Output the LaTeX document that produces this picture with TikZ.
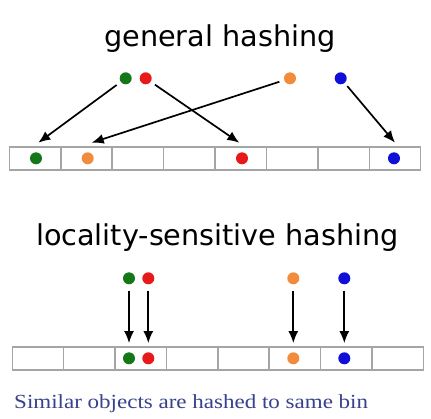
\documentclass[tikz,border=0pt]{standalone}
\usepackage{fontspec}
\setmainfont{Liberation Serif}
\newfontfamily\titlefont{DejaVu Sans}
\usetikzlibrary{arrows.meta}

\definecolor{dotgreen}{RGB}{20,120,25}
\definecolor{dotred}{RGB}{232,25,25}
\definecolor{dotorange}{RGB}{240,140,60}
\definecolor{dotblue}{RGB}{15,15,215}
\definecolor{bingray}{RGB}{165,165,165}
\definecolor{captionblue}{RGB}{55,65,140}

\tikzset{
  bin/.style={draw=bingray, line width=1.5pt, minimum width=51.4pt, minimum height=23pt, inner sep=0pt},
  dot/.style={circle, inner sep=0pt, minimum size=12pt},
  hasharrow/.style={line width=1.7pt, -{Latex[length=12pt,width=10pt]}},
  heading/.style={font=\titlefont\fontsize{28.7}{30}\selectfont, anchor=base}
}

\begin{document}
\begin{tikzpicture}[x=1pt,y=-1pt]
\useasboundingbox (0,0) rectangle (431,418);

% general hashing
\node[heading] (title1) at (220,46.7) {general hashing};

\node[dot, fill=dotgreen] (g1) at (125.7,78.3) {};
\node[dot, fill=dotred] (r1) at (145.7,78.3) {};
\node[dot, fill=dotorange] (o1) at (290,78.3) {};
\node[dot, fill=dotblue] (b1) at (340.7,78.3) {};

\node[bin] (u1) at (35.0,158.5) {};
\node[bin] (u2) at (86.5,158.5) {};
\node[bin] (u3) at (137.9,158.5) {};
\node[bin] (u4) at (189.3,158.5) {};
\node[bin] (u5) at (240.8,158.5) {};
\node[bin] (u6) at (292.2,158.5) {};
\node[bin] (u7) at (343.6,158.5) {};
\node[bin] (u8) at (395.0,158.5) {};

\node[dot, fill=dotgreen] (g1b) at (36,158.3) {};
\node[dot, fill=dotorange] (o1b) at (87.7,158.3) {};
\node[dot, fill=dotred] (r1b) at (242,158.3) {};
\node[dot, fill=dotblue] (b1b) at (394,158.3) {};

\coordinate (gtip) at (38.3,142.7);
\coordinate (otip) at (91.7,142.7);
\coordinate (rtip) at (239.3,142.7);
\coordinate (btip) at (395,142.7);

\draw[hasharrow, shorten <=5pt] (g1) -- (gtip);
\draw[hasharrow, shorten <=5pt] (o1) -- (otip);
\draw[hasharrow, shorten <=5pt] (r1) -- (rtip);
\draw[hasharrow, shorten <=4pt] (b1) -- (btip);

% locality-sensitive hashing
\node[heading] (title2) at (217.5,245) {locality-sensitive hashing};

\node[dot, fill=dotgreen] (g2) at (129,278.3) {};
\node[dot, fill=dotred] (r2) at (148.3,278.3) {};
\node[dot, fill=dotorange] (o2) at (293.3,278.3) {};
\node[dot, fill=dotblue] (b2) at (344.3,278.3) {};

\node[bin] (v1) at (38.0,358.7) {};
\node[bin] (v2) at (89.4,358.7) {};
\node[bin] (v3) at (140.8,358.7) {};
\node[bin] (v4) at (192.1,358.7) {};
\node[bin] (v5) at (243.5,358.7) {};
\node[bin] (v6) at (294.9,358.7) {};
\node[bin] (v7) at (346.3,358.7) {};
\node[bin] (v8) at (397.6,358.7) {};

\node[dot, fill=dotgreen] (g2b) at (129,358.3) {};
\node[dot, fill=dotred] (r2b) at (148.3,358.3) {};
\node[dot, fill=dotorange] (o2b) at (293.3,358.3) {};
\node[dot, fill=dotblue] (b2b) at (344.3,358.3) {};

\draw[hasharrow, shorten <=6pt, shorten >=9pt] (g2) -- (g2b);
\draw[hasharrow, shorten <=6pt, shorten >=9pt] (r2) -- (r2b);
\draw[hasharrow, shorten <=6pt, shorten >=9pt] (o2) -- (o2b);
\draw[hasharrow, shorten <=6pt, shorten >=9pt] (b2) -- (b2b);

\node[anchor=base west, inner sep=0pt, text=captionblue, xscale=1.15, transform shape, font=\fontsize{20}{22}\selectfont] (caption) at (14,408) {Similar objects are hashed to same bin};
\end{tikzpicture}
\end{document}
